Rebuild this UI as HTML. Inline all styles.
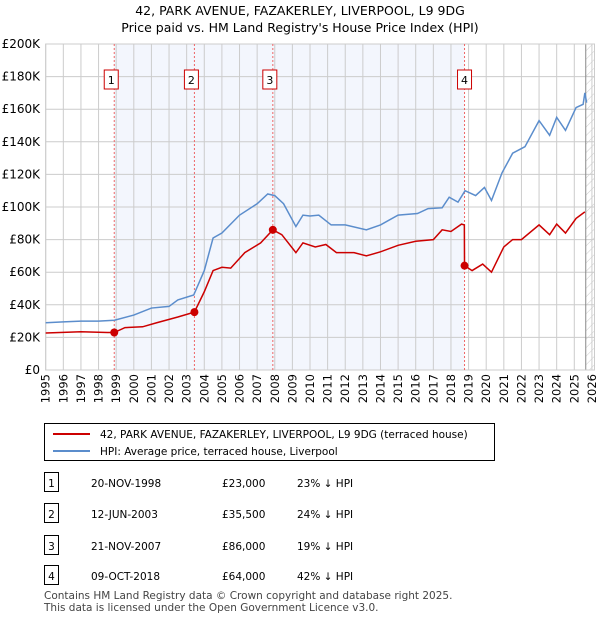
<!DOCTYPE html>
<html><head><meta charset="utf-8">
<style>
body{margin:0;background:#fff;font-family:"DejaVu Sans","Liberation Sans",sans-serif;}
svg text{font-family:"DejaVu Sans","Liberation Sans",sans-serif;}
</style></head>
<body>
<svg id="chart" width="600" height="620" xmlns="http://www.w3.org/2000/svg">
<text x="300" y="15" text-anchor="middle" font-size="12.5">42, PARK AVENUE, FAZAKERLEY, LIVERPOOL, L9 9DG</text>
<text x="300" y="32" text-anchor="middle" font-size="12.5">Price paid vs. HM Land Registry's House Price Index (HPI)</text>
<g id="plot"></g>
<g>
<rect x="44.5" y="423.5" width="450" height="37" fill="#fff" stroke="#000"/>
<line x1="53" y1="434" x2="90" y2="434" stroke="#cc0000" stroke-width="2"/>
<text x="100" y="438" font-size="10.5">42, PARK AVENUE, FAZAKERLEY, LIVERPOOL, L9 9DG (terraced house)</text>
<line x1="53" y1="451" x2="90" y2="451" stroke="#5b8dcc" stroke-width="2"/>
<text x="100" y="455" font-size="10.5">HPI: Average price, terraced house, Liverpool</text>
</g>
<g id="table" font-size="10.5"></g>
<text x="44" y="599" font-size="10.5" fill="#444">Contains HM Land Registry data © Crown copyright and database right 2025.</text>
<text x="44" y="611" font-size="10.5" fill="#444">This data is licensed under the Open Government Licence v3.0.</text>
</svg>
<script>
const hpiYears=[1995,1996,1997,1998,1998.9,2000,2001,2002,2002.5,2003.4,2004,2004.5,2005,2006,2007,2007.6,2008,2008.5,2009.2,2009.6,2010,2010.5,2011.2,2012,2013.2,2014,2015,2016.1,2016.7,2017.5,2017.9,2018.4,2018.8,2019.4,2019.9,2020.3,2020.9,2021.5,2022.2,2023,2023.6,2024,2024.5,2025.1,2025.5,2025.6,2025.7];
const hpiValues=[29,29.5,30,30,30.5,33.7,38,39,43,46,61,81,84,95,102,108,107,102,88,95,94.5,95,89,89,86,89,95,96,99,99.5,106,103,110,107,112,104,121,133,137,153,144,155,147,161,163,170,164];
const redYears=[1995,1997,1998.5,1998.89,1999.5,2000.5,2001.3,2002.5,2003.44,2004,2004.5,2005,2005.5,2006.3,2007.2,2007.89,2008.4,2009.2,2009.6,2010.3,2010.9,2011.5,2012.5,2013.2,2014,2015,2016,2017,2017.5,2018,2018.6,2018.76,2018.77,2019.2,2019.8,2020.3,2021,2021.5,2022,2023,2023.6,2024,2024.5,2025.1,2025.6];
const redValues=[22.7,23.5,23,23,26,26.5,29,32.5,35.5,48,61,63,62.5,72,78,86,83,72,78,75.5,77,72,72,70,72.5,76.5,79,80,86,85,89.5,89,64,61,65,60,75.5,80,80,89,83,89.5,84,93,97];
const saleYears=[1998.89,2003.44,2007.89,2018.77];
const saleValues=[23,35.5,86,64];
const saleLabels=["1","2","3","4"];
const saleDates=["20-NOV-1998","12-JUN-2003","21-NOV-2007","09-OCT-2018"];
const salePrices=["£23,000","£35,500","£86,000","£64,000"];
const saleDiffs=["23% ↓ HPI","24% ↓ HPI","19% ↓ HPI","42% ↓ HPI"];
const yTicks=[0,20,40,60,80,100,120,140,160,180,200];
const yTickLabels=["£0","£20K","£40K","£60K","£80K","£100K","£120K","£140K","£160K","£180K","£200K"];
const xTicks=[1995,1996,1997,1998,1999,2000,2001,2002,2003,2004,2005,2006,2007,2008,2009,2010,2011,2012,2013,2014,2015,2016,2017,2018,2019,2020,2021,2022,2023,2024,2025,2026];

const NS="http://www.w3.org/2000/svg";
const L=45.7,R=594.5,T=44,B=370;
const X=y=>L+(y-1995)*17.62;
const Y=v=>B-v*(B-T)/200;
const plot=document.getElementById('plot');
function mk(tag,attrs,parent){const e=document.createElementNS(NS,tag);for(const k in attrs)e.setAttribute(k,attrs[k]);(parent||plot).appendChild(e);return e;}

mk('rect',{x:L,y:T,width:R-L,height:B-T,fill:'#fff'});
const shade=mk('rect',{x:X(saleYears[0]),y:T,width:X(saleYears[3])-X(saleYears[0]),height:B-T,fill:'#f3f6fd'});


const defs=mk('defs',{});
const pat=mk('pattern',{id:'hatch',width:6,height:6,patternUnits:'userSpaceOnUse',patternTransform:'rotate(45)'},defs);
mk('line',{x1:0,y1:0,x2:0,y2:6,stroke:'#ccc','stroke-width':1},pat);
const hx=X(2025.65);
const hatch=mk('rect',{x:hx,y:T,width:R-hx,height:B-T,fill:'url(#hatch)'});



yTicks.forEach((v,i)=>{
  const g=mk('line',{x1:L,x2:R,y1:Y(v),y2:Y(v),stroke:'#ccc','stroke-width':1});
  
  
  const t=mk('text',{x:40,y:Y(v)+4,'text-anchor':'end','font-size':12});
  t.textContent=yTickLabels[i];
  
  
});
xTicks.forEach(yr=>{
  const g=mk('line',{x1:X(yr),x2:X(yr),y1:T,y2:B,stroke:'#ccc','stroke-width':1});
  
  
  const xx=X(yr)+4,yy=374;
  const t=mk('text',{x:xx,y:yy,'text-anchor':'end','font-size':11.5,transform:`rotate(-90 ${xx} ${yy})`});
  t.textContent=yr;
  
  
});
mk('line',{x1:hx,x2:hx,y1:T,y2:B,stroke:'#888','stroke-width':1});
mk('rect',{x:L,y:T,width:R-L,height:B-T,fill:'none',stroke:'#ccc'});

saleYears.forEach((yr,i)=>{
  const d=mk('line',{x1:X(yr),x2:X(yr),y1:T,y2:B,stroke:'#ee6666','stroke-dasharray':'2,2','stroke-width':1});
  
  
  const bx=X(yr)-7-(i==3?0:3);
  const r=mk('rect',{x:bx,y:70,width:14,height:19,fill:'#fff',stroke:'#cc0000'});
  
  
  const t=mk('text',{x:bx+7,y:84,'text-anchor':'middle','font-size':11});
  t.textContent=saleLabels[i];
  
  
});

const hp=mk('polyline',{points:hpiYears.map((y,i)=>X(y)+','+Y(hpiValues[i])).join(' '),fill:'none',stroke:'#5b8dcc','stroke-width':1.5});


const rp=mk('polyline',{points:redYears.map((y,i)=>X(y)+','+Y(redValues[i])).join(' '),fill:'none',stroke:'#cc0000','stroke-width':1.5});


saleYears.forEach((yr,i)=>{
  const c=mk('circle',{cx:X(yr),cy:Y(saleValues[i]),r:4,fill:'#cc0000'});
  
  
});

const tb=document.getElementById('table');
const rowY=[483,514,546,576];
saleLabels.forEach((lab,i)=>{
  const y=rowY[i];
  const r=mk('rect',{x:44.5,y:y-10.5,width:14,height:19,fill:'#fff',stroke:'#000'},tb);
  
  
  const vals=[[51.5,lab,'middle'],[91,saleDates[i],'start'],[222,salePrices[i],'start'],[297,saleDiffs[i],'start']];
  vals.forEach(v=>{
    const t=mk('text',{x:v[0],y:y+4,'text-anchor':v[2]},tb);
    t.textContent=v[1];
    
    
  });
});
</script>
</body></html>
